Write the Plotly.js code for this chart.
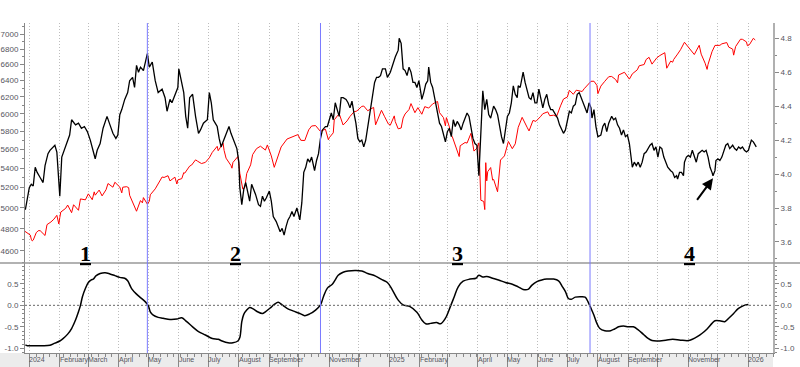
<!DOCTYPE html>
<html><head><meta charset="utf-8">
<script src="https://cdn.plot.ly/plotly-3.0.1.min.js"></script>
<style>html,body{margin:0;padding:0;background:#fff}#chart{width:800px;height:367px}</style>
</head><body><div id="chart"></div>
<script>
// ---------- DATA ----------
// S&P 500 (red, left log axis)
const spDates = ['2023-12-27','2023-12-29','2024-01-02','2024-01-03','2024-01-04','2024-01-05','2024-01-08','2024-01-10','2024-01-12','2024-01-17','2024-01-19','2024-01-23','2024-01-26','2024-01-29','2024-01-31','2024-02-01','2024-02-02','2024-02-07','2024-02-09','2024-02-13','2024-02-15','2024-02-20','2024-02-22','2024-02-27','2024-03-01','2024-03-05','2024-03-07','2024-03-08','2024-03-12','2024-03-15','2024-03-19','2024-03-21','2024-03-26','2024-03-28','2024-04-02','2024-04-04','2024-04-05','2024-04-09','2024-04-11','2024-04-12','2024-04-15','2024-04-17','2024-04-19','2024-04-23','2024-04-25','2024-04-26','2024-04-30','2024-05-02','2024-05-03','2024-05-08','2024-05-10','2024-05-15','2024-05-17','2024-05-21','2024-05-23','2024-05-28','2024-05-30','2024-05-31','2024-06-04','2024-06-06','2024-06-07','2024-06-12','2024-06-14','2024-06-18','2024-06-20','2024-06-24','2024-06-28','2024-07-02','2024-07-05','2024-07-10','2024-07-11','2024-07-16','2024-07-17','2024-07-19','2024-07-24','2024-07-25','2024-07-26','2024-07-31','2024-08-01','2024-08-02','2024-08-05','2024-08-07','2024-08-09','2024-08-13','2024-08-15','2024-08-19','2024-08-23','2024-08-28','2024-08-30','2024-09-03','2024-09-06','2024-09-11','2024-09-13','2024-09-19','2024-09-24','2024-09-30','2024-10-03','2024-10-07','2024-10-11','2024-10-14','2024-10-18','2024-10-23','2024-10-25','2024-10-28','2024-10-31','2024-11-01','2024-11-05','2024-11-06','2024-11-11','2024-11-15','2024-11-19','2024-11-22','2024-11-26','2024-11-29','2024-12-04','2024-12-06','2024-12-10','2024-12-13','2024-12-16','2024-12-18','2024-12-20','2024-12-24','2024-12-27','2024-12-31','2025-01-02','2025-01-06','2025-01-07','2025-01-10','2025-01-13','2025-01-15','2025-01-17','2025-01-21','2025-01-23','2025-01-27','2025-01-30','2025-02-03','2025-02-06','2025-02-10','2025-02-14','2025-02-19','2025-02-21','2025-02-25','2025-02-27','2025-02-28','2025-03-03','2025-03-04','2025-03-06','2025-03-10','2025-03-13','2025-03-14','2025-03-19','2025-03-21','2025-03-25','2025-03-28','2025-03-31','2025-04-02','2025-04-03','2025-04-04','2025-04-07','2025-04-08','2025-04-09','2025-04-10','2025-04-11','2025-04-14','2025-04-16','2025-04-17','2025-04-21','2025-04-22','2025-04-24','2025-04-28','2025-05-02','2025-05-06','2025-05-09','2025-05-12','2025-05-16','2025-05-21','2025-05-23','2025-05-27','2025-05-30','2025-06-04','2025-06-06','2025-06-11','2025-06-13','2025-06-17','2025-06-20','2025-06-24','2025-06-27','2025-07-01','2025-07-03','2025-07-07','2025-07-10','2025-07-14','2025-07-16','2025-07-18','2025-07-23','2025-07-25','2025-07-28','2025-07-31','2025-08-01','2025-08-04','2025-08-08','2025-08-12','2025-08-15','2025-08-19','2025-08-21','2025-08-22','2025-08-28','2025-09-02','2025-09-05','2025-09-10','2025-09-12','2025-09-17','2025-09-19','2025-09-22','2025-09-25','2025-09-30','2025-10-03','2025-10-08','2025-10-10','2025-10-14','2025-10-16','2025-10-17','2025-10-21','2025-10-24','2025-10-28','2025-10-31','2025-11-04','2025-11-07','2025-11-12','2025-11-14','2025-11-18','2025-11-20','2025-11-21','2025-11-25','2025-11-28','2025-12-03','2025-12-05','2025-12-10','2025-12-12','2025-12-16','2025-12-17','2025-12-19','2025-12-24','2025-12-26','2025-12-30','2025-12-31','2026-01-02','2026-01-06','2026-01-08'];
const spClose = [4781,4770,4743,4705,4689,4697,4764,4783,4784,4739,4840,4865,4891,4928,4846,4906,4959,4995,5027,4953,5030,4976,5087,5078,5137,5079,5157,5124,5175,5117,5178,5241,5204,5254,5205,5147,5204,5209,5199,5123,5061,5022,4967,5071,5048,5100,5036,5064,5128,5187,5223,5308,5303,5321,5268,5306,5236,5278,5291,5353,5347,5421,5432,5487,5473,5448,5460,5509,5567,5633,5585,5667,5589,5505,5427,5399,5459,5522,5446,5346,5186,5199,5344,5434,5543,5608,5634,5592,5648,5529,5408,5554,5626,5713,5732,5762,5699,5696,5815,5859,5864,5797,5808,5823,5705,5729,5782,5929,6001,5870,5917,5969,6021,6032,6086,6090,6035,6051,6074,5872,5930,6040,5970,5882,5869,5975,5909,5827,5836,5950,5997,6049,6119,6012,6071,5994,6083,6066,6115,6144,6013,5955,5861,5955,5850,5778,5739,5615,5522,5639,5675,5668,5777,5581,5612,5671,5397,5074,5062,4983,5457,5268,5363,5406,5276,5283,5158,5288,5485,5529,5686,5607,5660,5844,5958,5845,5803,5922,5912,5971,6000,6022,5977,5983,5968,6092,6173,6198,6279,6230,6280,6269,6264,6297,6359,6389,6390,6339,6238,6330,6389,6446,6449,6411,6370,6467,6502,6416,6482,6532,6584,6600,6664,6693,6605,6688,6716,6753,6553,6644,6630,6664,6735,6792,6891,6840,6771,6729,6851,6734,6617,6538,6603,6766,6849,6850,6870,6887,6827,6800,6721,6834,6932,6930,6896,6845,6858,6944,6921];

// 10-year yield (black, right axis). Dates given as days since 2024-01-01.
const yieldDays = [-4,-2,0,2,4,6,8,11,14,16,19,21,23,26,28,30,31,33,36,38,41,43,47,50,53,56,59,62,65,67,69,72,75,77,79,82,85,88,90,92,94,97,100,102,105,107,109,111,113,116,118,120,122,125,128,131,135,138,140,143,145,148,151,152,155,157,159,161,163,166,169,172,174,177,181,183,185,187,189,191,193,195,197,200,203,205,208,211,213,214,216,218,220,222,224,226,228,230,233,235,237,239,241,244,246,248,251,253,255,257,259,261,263,265,267,269,272,275,277,279,281,283,285,287,290,292,294,296,298,301,303,305,307,309,311,313,315,317,319,322,324,326,328,330,332,334,336,338,340,342,344,346,348,351,353,355,357,359,362,364,367,370,372,375,376,378,380,382,384,386,388,390,392,394,396,398,399,401,403,405,406,408,410,412,415,417,419,421,423,425,427,429,431,433,435,437,439,441,443,445,447,449,451,453,455,457,459,461,463,465,467,469,472,474,476,478,480,482,484,486,488,490,492,494,496,497,499,502,504,506,508,510,512,514,516,518,520,522,524,526,528,530,532,535,537,539,541,543,545,547,549,551,553,555,557,559,561,563,565,567,569,571,572,574,576,578,581,583,585,587,589,592,594,596,598,600,602,604,606,608,610,611,612,613,615,617,619,621,623,625,627,629,631,633,635,637,639,641,643,645,647,649,652,654,656,658,659,661,663,665,666,668,670,672,674,676,678,680,682,684,686,688,690,692,694,695,697,698,700,702,704,706,708,710,712,715,717,719,721,723,725,727,729,731,734,736,739];
const yieldValue = [3.79,3.86,3.92,3.94,3.93,4.04,4.01,3.98,3.95,4.05,4.12,4.14,4.15,4.17,4.13,3.99,3.87,4.10,4.15,4.18,4.23,4.32,4.29,4.30,4.27,4.28,4.25,4.20,4.14,4.09,4.14,4.18,4.27,4.30,4.34,4.29,4.24,4.21,4.23,4.35,4.38,4.44,4.48,4.55,4.57,4.51,4.64,4.60,4.63,4.61,4.66,4.71,4.63,4.66,4.55,4.48,4.50,4.45,4.37,4.44,4.42,4.47,4.51,4.62,4.53,4.48,4.34,4.27,4.45,4.47,4.34,4.24,4.26,4.30,4.32,4.48,4.42,4.32,4.30,4.28,4.21,4.16,4.19,4.23,4.28,4.24,4.20,4.15,4.07,3.92,3.82,3.91,3.95,3.89,3.84,3.94,3.91,3.88,3.82,3.81,3.87,3.84,3.86,3.90,3.84,3.75,3.72,3.69,3.66,3.68,3.64,3.69,3.73,3.75,3.78,3.75,3.80,3.73,3.83,4.01,4.04,4.09,4.07,4.10,4.02,4.08,4.12,4.21,4.26,4.28,4.28,4.32,4.36,4.32,4.42,4.38,4.34,4.45,4.45,4.44,4.42,4.39,4.43,4.36,4.30,4.21,4.19,4.20,4.16,4.20,4.28,4.36,4.45,4.54,4.57,4.57,4.58,4.62,4.62,4.57,4.60,4.66,4.69,4.73,4.80,4.77,4.62,4.61,4.58,4.63,4.60,4.54,4.54,4.51,4.55,4.48,4.44,4.48,4.53,4.55,4.63,4.54,4.51,4.45,4.36,4.30,4.28,4.24,4.19,4.25,4.27,4.22,4.32,4.28,4.31,4.29,4.26,4.30,4.33,4.36,4.34,4.28,4.21,4.18,4.17,3.99,4.26,4.49,4.38,4.44,4.35,4.33,4.40,4.38,4.35,4.27,4.22,4.18,4.26,4.34,4.36,4.42,4.52,4.47,4.45,4.52,4.51,4.60,4.54,4.50,4.45,4.44,4.48,4.42,4.42,4.50,4.44,4.39,4.44,4.47,4.41,4.38,4.38,4.35,4.33,4.29,4.26,4.24,4.26,4.32,4.37,4.36,4.40,4.41,4.47,4.48,4.45,4.41,4.39,4.36,4.42,4.39,4.33,4.38,4.28,4.22,4.23,4.28,4.30,4.25,4.30,4.34,4.32,4.33,4.29,4.27,4.23,4.26,4.22,4.23,4.18,4.14,4.07,4.04,4.07,4.05,4.07,4.04,4.07,4.12,4.13,4.15,4.17,4.18,4.14,4.16,4.10,4.16,4.15,4.10,4.07,4.04,4.02,4.01,3.98,3.99,3.97,4.01,4.01,3.99,4.07,4.10,4.11,4.10,4.14,4.11,4.07,4.12,4.13,4.14,4.13,4.14,4.10,4.04,4.01,3.99,4.02,4.08,4.09,4.08,4.10,4.14,4.17,4.18,4.15,4.17,4.15,4.14,4.16,4.15,4.16,4.14,4.13,4.14,4.20,4.19,4.16];

// Rolling correlation (lower panel). Days since 2024-01-01.
const corrDays = [-4,-2,6,13,21,26,31,34,39,43,47,50,52,54,57,60,63,65,68,72,77,82,87,92,97,100,104,109,113,118,121,123,126,131,136,143,150,155,160,166,172,179,186,192,196,202,207,212,214,216,218,221,224,228,232,237,240,245,249,253,257,262,268,275,280,285,291,296,299,303,308,311,314,319,324,331,338,344,352,359,364,369,375,380,387,394,399,403,408,414,418,423,428,432,436,441,448,454,457,461,465,471,477,484,491,497,502,507,511,516,521,526,533,538,542,545,548,551,555,560,565,568,571,574,577,580,585,591,595,599,604,609,614,619,624,629,633,638,647,654,662,670,674,679,684,689,694,697,702,707,711,716,720,724,728,731];
const corrValue = [-0.92,-0.94,-0.94,-0.94,-0.93,-0.88,-0.83,-0.78,-0.67,-0.54,-0.34,-0.15,0.0,0.20,0.39,0.53,0.59,0.61,0.69,0.74,0.76,0.73,0.69,0.65,0.63,0.57,0.39,0.26,0.18,0.08,-0.01,-0.15,-0.23,-0.28,-0.30,-0.33,-0.32,-0.29,-0.38,-0.50,-0.61,-0.69,-0.77,-0.79,-0.83,-0.87,-0.87,-0.83,-0.75,-0.38,-0.21,-0.11,-0.05,-0.09,-0.15,-0.19,-0.15,-0.06,0.02,0.07,0.01,-0.07,-0.13,-0.19,-0.24,-0.20,-0.11,0.01,0.20,0.40,0.49,0.59,0.70,0.77,0.80,0.81,0.80,0.74,0.68,0.59,0.53,0.36,0.12,0.01,-0.03,-0.16,-0.34,-0.43,-0.42,-0.40,-0.43,-0.30,-0.03,0.20,0.43,0.56,0.61,0.63,0.70,0.66,0.67,0.63,0.59,0.53,0.49,0.43,0.37,0.37,0.47,0.55,0.59,0.61,0.61,0.57,0.43,0.32,0.16,0.14,0.19,0.20,0.19,0.08,-0.07,-0.23,-0.42,-0.54,-0.59,-0.59,-0.55,-0.50,-0.48,-0.50,-0.50,-0.57,-0.67,-0.77,-0.82,-0.83,-0.81,-0.79,-0.81,-0.82,-0.79,-0.73,-0.65,-0.55,-0.42,-0.36,-0.36,-0.38,-0.30,-0.19,-0.09,-0.03,0.01,0.02];

// Regime change dates (blue lines) and regime labels
const regimeLines = ['2024-04-30','2024-10-23','2025-07-24'];
const regimeLabelDates = ['2024-02-27','2024-07-29','2025-03-11','2025-11-02'];
const regimeLabels = ['1','2','3','4'];

// Axis ticks
const monthStarts = ['2024-01-01','2024-02-01','2024-03-01','2024-04-01','2024-05-01','2024-06-01','2024-07-01','2024-08-01','2024-09-01','2024-10-01','2024-11-01','2024-12-01','2025-01-01','2025-02-01','2025-03-01','2025-04-01','2025-05-01','2025-06-01','2025-07-01','2025-08-01','2025-09-01','2025-10-01','2025-11-01','2025-12-01','2026-01-01'];
const monthLabelDates = ['2024-01-01','2024-02-01','2024-03-01','2024-04-01','2024-05-01','2024-06-01','2024-07-01','2024-08-01','2024-09-01','2024-11-01','2025-01-01','2025-02-01','2025-04-01','2025-05-01','2025-06-01','2025-07-01','2025-08-01','2025-09-01','2025-11-01','2026-01-01'];
const monthLabels = ['2024','February','March','April','May','June','July','August','September','November','2025','February','April','May','June','July','August','September','November','2026'];
const leftTicks = [4600,4800,5000,5200,5400,5600,5800,6000,6200,6400,6600,6800,7000];
const leftMinor = [4500,4700,4900,5100,5300,5500,5700,5900,6100,6300,6500,6700,6900,7100];
const rightTicks = [3.6,3.8,4.0,4.2,4.4,4.6,4.8];
const rightMinor = [3.5,3.7,3.9,4.1,4.3,4.5,4.7];
const lowTicks = [-1.0,-0.5,0.0,0.5];
const lowMinor = [-1.1,-0.9,-0.8,-0.7,-0.6,-0.4,-0.3,-0.2,-0.1,0.1,0.2,0.3,0.4,0.6,0.7,0.8,0.9];
const arrowDate = '2025-11-26', arrowYield = 3.975;

// ---------- BUILD ----------
const BASE = Date.UTC(2024,0,1);
const toDate = d => new Date(BASE + d*86400000).toISOString().slice(0,10);
const yieldDates = yieldDays.map(toDate);
const corrDates = corrDays.map(toDate);

const xRange = ['2023-12-27 15:00','2026-01-26'];
const TF = {family:'Liberation Sans, Arial, sans-serif', size:8, color:'#555560'};
const MF = {family:'Liberation Sans, Arial, sans-serif', size:7, color:'#555560'};
const split = 0.2727;
const GRID = {showgrid:true, gridcolor:'#bdbdbd', griddash:'1px,2px', gridwidth:1};

const traces = [
  {x:spDates, y:spClose, xaxis:'x', yaxis:'y', mode:'lines', line:{color:'#ff0000', width:1}, hoverinfo:'skip'},
  {x:yieldDates, y:yieldValue, xaxis:'x', yaxis:'y2', mode:'lines', line:{color:'#000000', width:1.3}, hoverinfo:'skip'},
  {x:corrDates, y:corrValue, xaxis:'x2', yaxis:'y3', mode:'lines', line:{color:'#000000', width:1.5, shape:'spline'}, hoverinfo:'skip'},
  {x:corrDates, y:corrValue, xaxis:'x2', yaxis:'y4', mode:'lines', line:{color:'rgba(0,0,0,0)', width:0}, hoverinfo:'skip'}
];

const shapes = [
  {type:'rect', xref:'paper', yref:'paper', x0:-0.04, x1:1.0, y0:-0.06, y1:0, fillcolor:'#ececec', line:{width:0}, layer:'below'},
  {type:'line', xref:'paper', yref:'paper', x0:-0.04, x1:1.04, y0:split, y1:split, line:{color:'#999999', width:1.5}},
  {type:'line', xref:'paper', yref:'y3', x0:0, x1:1, y0:0, y1:0, line:{color:'#666666', width:1, dash:'2px,2px'}}
];
regimeLines.forEach(d => shapes.push({type:'line', xref:'x', yref:'paper', x0:d, x1:d, y0:0, y1:1, line:{color:'#7a7aff', width:1}}));

const annotations = [];
monthLabelDates.forEach((d,i) => annotations.push({xref:'x2', yref:'paper', x:d, y:-0.021, xanchor:'left', yanchor:'middle', xshift:-1, text:monthLabels[i], showarrow:false, font:MF, borderpad:0}));
regimeLabelDates.forEach((d,i) => annotations.push({xref:'x', yref:'paper', x:d, y:0.303, xanchor:'center', yanchor:'middle', text:'<b><u>'+regimeLabels[i]+'</u></b>', showarrow:false, font:{family:'Liberation Serif, Times New Roman, serif', size:22, color:'#000'}}));
annotations.push({xref:'x', yref:'y2', x:arrowDate, y:arrowYield, ax:-17, ay:23, text:'', showarrow:true, arrowhead:2, arrowsize:1.1, arrowwidth:2, arrowcolor:'#000', standoff:0});

const yAxisCommon = {tickmode:'array', ticks:'outside', ticklen:4, tickcolor:'#888', tickfont:TF, showgrid:false, zeroline:false, showline:true};

const layout = {
  width:800, height:367, margin:{l:25, r:27, t:23, b:14},
  paper_bgcolor:'#ffffff', plot_bgcolor:'#ffffff', showlegend:false,
  font:TF,
  xaxis:Object.assign({type:'date', range:xRange, domain:[0,1], anchor:'y', tickmode:'array', tickvals:monthStarts, showticklabels:false, ticks:'', showline:false, zeroline:false}, GRID),
  xaxis2:Object.assign({type:'date', range:xRange, domain:[0,1], anchor:'y3', tickmode:'array', tickvals:monthStarts, showticklabels:false, ticks:'outside', ticklen:13, tickcolor:'#888', showline:true, linecolor:'#888', zeroline:false,
    minor:{tickmode:'linear', tick0:'2024-01-01', dtick:7*86400000, ticks:'outside', ticklen:3, tickcolor:'#888', showgrid:false}}, GRID),
  yaxis:Object.assign({}, yAxisCommon, {type:'log', domain:[split,1], anchor:'x', range:[Math.log10(4493), Math.log10(7153)], tickvals:leftTicks, ticktext:leftTicks.map(String), linecolor:'#888',
    minor:{tickmode:'array', tickvals:leftMinor, ticks:'outside', ticklen:2, tickcolor:'#888', showgrid:false}}),
  yaxis2:Object.assign({}, yAxisCommon, {overlaying:'y', side:'right', anchor:'x', range:[3.476, 4.890], tickvals:rightTicks, ticktext:rightTicks.map(v=>v.toFixed(1)), linecolor:'#b0b0b0', linewidth:2,
    minor:{tickmode:'array', tickvals:rightMinor, ticks:'outside', ticklen:2, tickcolor:'#888', showgrid:false}}),
  yaxis3:Object.assign({}, yAxisCommon, {domain:[0,split], anchor:'x2', range:[-1.109, 0.984], tickvals:lowTicks, ticktext:lowTicks.map(v=>v.toFixed(1)), linecolor:'#888',
    minor:{tickmode:'array', tickvals:lowMinor, ticks:'outside', ticklen:2, tickcolor:'#888', showgrid:false}}),
  yaxis4:Object.assign({}, yAxisCommon, {overlaying:'y3', side:'right', anchor:'x2', range:[-1.109, 0.984], tickvals:lowTicks, ticktext:lowTicks.map(v=>v.toFixed(1)), linecolor:'#b0b0b0', linewidth:2,
    minor:{tickmode:'array', tickvals:lowMinor, ticks:'outside', ticklen:2, tickcolor:'#888', showgrid:false}}),
  shapes:shapes, annotations:annotations
};

Plotly.newPlot('chart', traces, layout, {staticPlot:true, displayModeBar:false});
</script></body></html>
